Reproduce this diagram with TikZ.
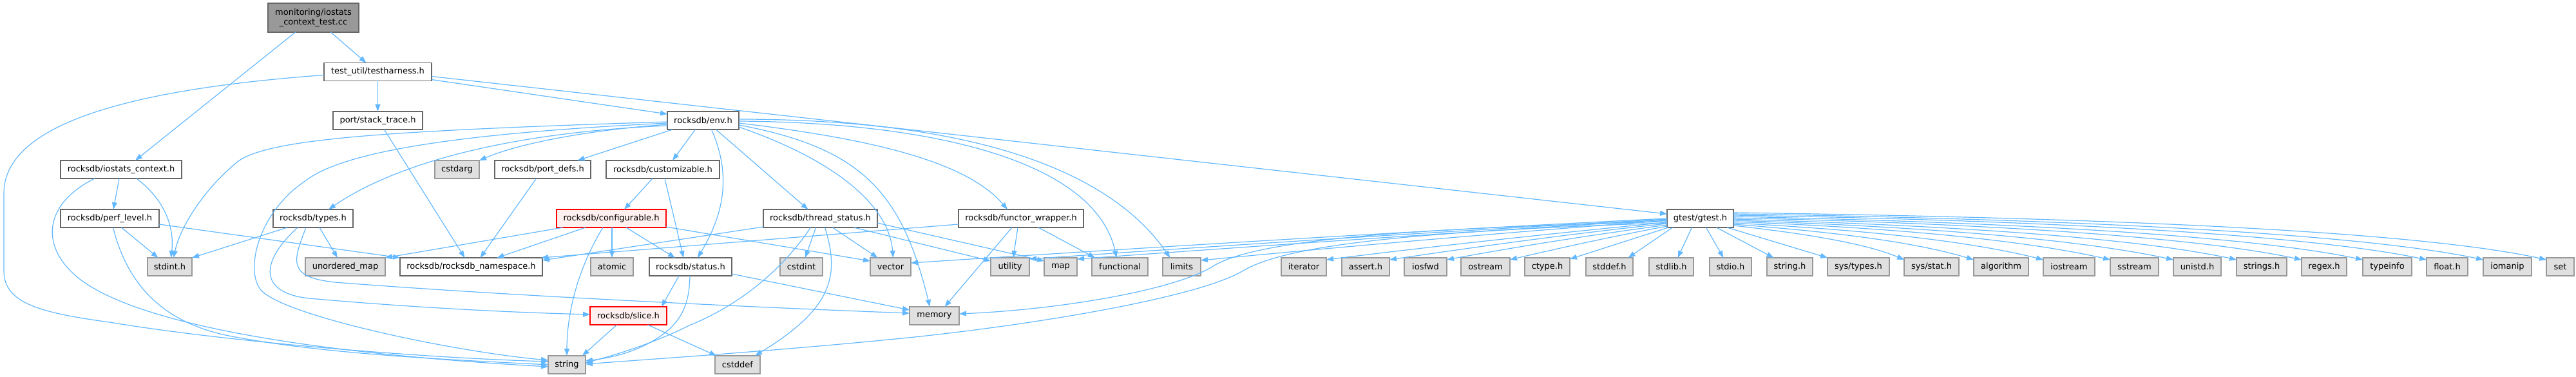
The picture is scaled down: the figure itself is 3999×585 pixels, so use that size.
\documentclass[tikz,border=0pt]{standalone}
\usepackage{fontspec}
\setmainfont{DejaVu Sans}
\usetikzlibrary{arrows.meta,calc}
\definecolor{edgec}{HTML}{63B8FF}
\definecolor{wborder}{HTML}{666666}
\definecolor{lborder}{HTML}{999999}
\definecolor{lfill}{HTML}{E0E0E0}
\definecolor{rfill}{HTML}{FFF0F0}
\definecolor{mfill}{HTML}{999999}
\tikzset{
  box/.style={rectangle, inner sep=0pt, outer sep=0pt, minimum height=28pt, line width=1.3pt, font=\fontsize{13}{15.5}\selectfont, text=black},
  wnode/.style={box, draw=wborder, fill=white},
  leaf/.style={box, draw=lborder, fill=lfill},
  rnode/.style={box, draw=red, fill=rfill},
  mainnode/.style={box, draw=wborder, fill=mfill, align=center},
  dep/.style={draw=edgec, line width=1.2pt, -{Triangle[length=11pt,width=8pt]}}
}
\begin{document}
\begin{tikzpicture}[x=1pt,y=-1pt]
\useasboundingbox (0,0) rectangle (3999,585);
% row 0-3
\node[mainnode, minimum width=141pt, minimum height=45pt] (main) at (486.5,27.5) {monitoring/iostats\\\_context\_test.cc};
\node[wnode, minimum width=167pt] (th) at (586.5,111.5) {test\_util/testharness.h};
\node[wnode, minimum width=139pt] (st) at (586.5,187) {port/stack\_trace.h};
\node[wnode, minimum width=111pt] (env) at (1091.5,187) {rocksdb/env.h};
\node[wnode, minimum width=188pt] (ioc) at (188,263) {rocksdb/iostats\_context.h};
\node[leaf, minimum width=69pt] (cstdarg) at (709.5,263) {cstdarg};
\node[wnode, minimum width=149pt] (pd) at (842.5,263) {rocksdb/port\_defs.h};
\node[wnode, minimum width=176pt] (cust) at (1029,263) {rocksdb/customizable.h};
% row 4
\node[wnode, minimum width=153pt] (pl) at (170.5,339) {rocksdb/perf\_level.h};
\node[wnode, minimum width=124pt] (types) at (486,339) {rocksdb/types.h};
\node[rnode, minimum width=170pt] (conf) at (949,339) {rocksdb/configurable.h};
\node[wnode, minimum width=177pt] (ts) at (1273.5,339) {rocksdb/thread\_status.h};
\node[wnode, minimum width=194pt] (fw) at (1585,339) {rocksdb/functor\_wrapper.h};
\node[wnode, minimum width=103pt] (gtest) at (2639.5,339) {gtest/gtest.h};
% row 5
\node[leaf, minimum width=69pt] (stdint) at (263.5,414) {stdint.h};
\node[leaf, minimum width=124pt] (umap) at (536,414) {unordered\_map};
\node[wnode, minimum width=221pt] (ns) at (731.5,414) {rocksdb/rocksdb\_namespace.h};
\node[leaf, minimum width=66pt] (atomic) at (950,414) {atomic};
\node[wnode, minimum width=128pt] (status) at (1072,414) {rocksdb/status.h};
\node[leaf, minimum width=66pt] (cstdint) at (1244,414) {cstdint};
\node[leaf, minimum width=63pt] (vector) at (1382.5,414) {vector};
\node[leaf, minimum width=60pt] (utility) at (1568,414) {utility};
\node[leaf, minimum width=51pt] (map) at (1646.5,414) {map};
\node[leaf, minimum width=87pt] (functional) at (1738.5,414) {functional};
\node[leaf, minimum width=59pt] (limits) at (1834.5,414) {limits};
\node[leaf, minimum width=70pt] (iterator) at (2024,414) {iterator};
\node[leaf, minimum width=74pt] (assert) at (2120,414) {assert.h};
\node[leaf, minimum width=66pt] (iosfwd) at (2213,414) {iosfwd};
\node[leaf, minimum width=76pt] (ostream) at (2306,414) {ostream};
\node[leaf, minimum width=70pt] (ctype) at (2402,414) {ctype.h};
\node[leaf, minimum width=73pt] (stddef) at (2498.5,414) {stddef.h};
\node[leaf, minimum width=69pt] (stdlib) at (2594.5,414) {stdlib.h};
\node[leaf, minimum width=65pt] (stdio) at (2686.5,414) {stdio.h};
\node[leaf, minimum width=71pt] (stringh) at (2778.5,414) {string.h};
\node[leaf, minimum width=96pt] (systypes) at (2885,414) {sys/types.h};
\node[leaf, minimum width=85pt] (sysstat) at (2998.5,414) {sys/stat.h};
\node[leaf, minimum width=85pt] (algorithm) at (3106.5,414) {algorithm};
\node[leaf, minimum width=80pt] (iostream) at (3212,414) {iostream};
\node[leaf, minimum width=75pt] (sstream) at (3313.5,414) {sstream};
\node[leaf, minimum width=74pt] (unistd) at (3411,414) {unistd.h};
\node[leaf, minimum width=78pt] (strings) at (3511,414) {strings.h};
\node[leaf, minimum width=70pt] (regex) at (3608,414) {regex.h};
\node[leaf, minimum width=76pt] (typeinfo) at (3706,414) {typeinfo};
\node[leaf, minimum width=64pt] (float) at (3799,414) {float.h};
\node[leaf, minimum width=75pt] (iomanip) at (3892.5,414) {iomanip};
\node[leaf, minimum width=43pt] (set) at (3974.5,414) {set};
% row 6-7
\node[rnode, minimum width=119pt] (slice) at (975.5,490) {rocksdb/slice.h};
\node[leaf, minimum width=77pt] (memory) at (1450.5,490) {memory};
\node[leaf, minimum width=58pt] (string) at (880,566) {string};
\node[leaf, minimum width=70pt] (cstddef) at (1145,566) {cstddef};

% main
\draw[dep] ($(main.south)+(27,0)$) -- ($(th.north)+(-18,0)$);
\draw[dep] ($(main.south)+(-28,0)$) -- ($(ioc.north)+(22,0)$);
% testharness
\draw[dep] ($(th.west)+(0,5)$) .. controls (250,135) and (6,180) .. (6,300) -- (6,420) .. controls (6,470) and (60,485) .. (170,500) .. controls (350,530) and (650,555) .. ($(string.west)+(0,-5)$);
\draw[dep] (th.south) -- (st.north);
\draw[dep] ($(th.east)+(0,12)$) -- ($(env.west)+(0,-10)$);
\draw[dep] ($(th.east)+(0,7)$) -- ($(gtest.west)+(0,-7)$);
% stack_trace
\draw[dep] ($(st.south)+(10,0)$) -- ($(ns.north)+(-10,0)$);
% env
\draw[dep] ($(env.west)+(0,6)$) .. controls (900,203) and (800,225) .. (cstdarg.north east);
\draw[dep] ($(env.south west)+(8,0)$) -- ($(pd.north)+(54,0)$);
\draw[dep] ($(env.south)+(-12,0)$) -- ($(cust.north)+(15,0)$);
\draw[dep] ($(env.west)+(0,2)$) .. controls (600,203) and (420,215) .. (370,250) .. controls (320,290) and (280,350) .. ($(stdint.north)+(6,0)$);
\draw[dep] ($(env.west)+(0,4)$) .. controls (750,205) and (540,230) .. (475,280) .. controls (400,330) and (380,420) .. (405,450) .. controls (440,490) and (700,545) .. ($(string.west)+(0,-7)$);
\draw[dep] ($(env.west)+(0,8)$) .. controls (800,205) and (620,250) .. ($(types.north)+(24,0)$);
\draw[dep] ($(env.south)+(13,0)$) .. controls (1135,270) and (1125,330) .. ($(status.north)+(11,0)$);
\draw[dep] ($(env.south)+(20,0)$) -- ($(ts.north)+(-19,0)$);
\draw[dep] ($(env.east)+(0,10)$) .. controls (1300,250) and (1380,320) .. ($(vector.north)+(4,0)$);
\draw[dep] ($(env.east)+(0,7)$) .. controls (1340,230) and (1400,300) .. ($(memory.north)+(-7,0)$);
\draw[dep] ($(env.east)+(0,4)$) .. controls (1350,215) and (1500,250) .. ($(fw.north)+(-21,0)$);
\draw[dep] ($(env.east)+(0,1)$) .. controls (1450,190) and (1700,250) .. ($(functional.north)+(-5,0)$);
\draw[dep] ($(env.east)+(0,-2)$) .. controls (1500,185) and (1720,260) .. ($(limits.north)+(-18,0)$);
% customizable
\draw[dep] ($(cust.south)+(-16,0)$) -- ($(conf.north)+(20,0)$);
\draw[dep] ($(cust.south)+(3,0)$) -- ($(status.north)+(-11,0)$);
% iostats_context
\draw[dep] ($(ioc.south)+(-41,0)$) .. controls (70,315) and (60,380) .. (120,430) .. controls (230,520) and (600,555) .. ($(string.west)+(0,3)$);
\draw[dep] ($(ioc.south)+(-3,0)$) -- ($(pl.north)+(5.5,0)$);
\draw[dep] ($(ioc.south)+(24,0)$) .. controls (262,315) and (270,360) .. ($(stdint.north)+(2,0)$);
% perf_level
\draw[dep] ($(pl.south)+(18,0)$) -- ($(stdint.north)+(-18,0)$);
\draw[dep] ($(pl.south)+(5,0)$) .. controls (200,450) and (260,500) .. (350,520) .. controls (500,550) and (700,558) .. (string.west);
\draw[dep] ($(pl.east)+(0,9)$) -- (ns.north west);
% types
\draw[dep] ($(types.south)+(-40,0)$) -- (stdint.north east);
\draw[dep] ($(types.south)+(10,0)$) -- ($(umap.north)+(-12,0)$);
\draw[dep] ($(types.south)+(-24,0)$) .. controls (400,410) and (405,455) .. (480,463) .. controls (650,478) and (800,485) .. ($(slice.west)+(0,-2)$);
\draw[dep] ($(types.south)+(-11,0)$) .. controls (455,405) and (445,430) .. (520,438) .. controls (800,460) and (1200,478) .. ($(memory.west)+(0,-4)$);
% configurable
\draw[dep] ($(conf.south)+(-75,0)$) -- (umap.north east);
\draw[dep] ($(conf.south)+(-40,0)$) -- ($(ns.north)+(40,0)$);
\draw[dep] ($(conf.south)+(-13,0)$) .. controls (895,420) and (880,490) .. (string.north);
\draw[dep] ($(conf.south)+(1,0)$) -- (atomic.north);
\draw[dep] ($(conf.south)+(23,0)$) -- ($(status.north)+(-24,0)$);
\draw[dep] ($(conf.east)+(0,13)$) -- ($(vector.north west)+(0,5)$);
% slice
\draw[dep] ($(slice.south)+(30,0)$) -- ($(cstddef.north)+(-33,0)$);
\draw[dep] ($(slice.south)+(-18,0)$) -- ($(string.north east)+(-5,0)$);
% status
\draw[dep] ($(status.south)+(-18,0)$) -- ($(slice.north east)+(-8,0)$);
\draw[dep] ($(status.south)+(-1,0)$) .. controls (1070,470) and (1060,490) .. (1040,510) .. controls (1000,545) and (950,555) .. ($(string.east)+(0,-6)$);
\draw[dep] ($(status.east)+(0,11)$) -- ($(memory.west)+(0,-9)$);
% thread_status
\draw[dep] ($(ts.west)+(0,13)$) -- ($(ns.north east)+(0,4)$);
\draw[dep] ($(ts.south)+(-15,0)$) .. controls (1200,440) and (1120,485) .. (1070,505) .. controls (1010,535) and (950,552) .. ($(string.east)+(0,-3)$);
\draw[dep] ($(ts.south)+(-7,0)$) -- ($(cstdint.north)+(6,0)$);
\draw[dep] ($(ts.south)+(7,0)$) .. controls (1305,430) and (1290,480) .. ($(cstddef.north)+(27,0)$);
\draw[dep] ($(ts.south)+(19,0)$) -- ($(vector.north)+(-20,0)$);
\draw[dep] ($(ts.south)+(52,0)$) -- ($(utility.north west)+(0,5)$);
\draw[dep] ($(ts.east)+(0,7)$) -- ($(map.north west)+(0,5)$);
% functor_wrapper
\draw[dep] ($(fw.west)+(0,9)$) -- ($(ns.north east)+(-2,0)$);
\draw[dep] ($(fw.south)+(-14,0)$) -- ($(memory.north)+(16,0)$);
\draw[dep] ($(fw.south)+(-5,0)$) -- ($(utility.north)+(5,0)$);
\draw[dep] ($(fw.south)+(27,0)$) -- ($(functional.north west)+(5,0)$);
% port_defs
\draw[dep] ($(pd.south)+(-10,0)$) -- ($(ns.north)+(14,0)$);
% gtest left
\draw[dep] (gtest.west) .. controls (2200,358) and (1800,383) .. ($(vector.north east)+(0,8)$);
\draw[dep] ($(gtest.west)+(0,1)$) .. controls (2258,358) and (1928,379) .. ($(utility.north east)+(0,2)$);
\draw[dep] ($(gtest.west)+(0,2)$) .. controls (2283,359) and (1977,380) .. ($(map.north east)+(0,2)$);
\draw[dep] ($(gtest.west)+(0,3)$) .. controls (2347,360) and (2105,381) .. ($(limits.north east)+(0,4)$);
\draw[dep] ($(gtest.west)+(0,5)$) .. controls (2150,355) and (1940,375) .. (1880,415) .. controls (1820,450) and (1650,480) .. ($(memory.east)+(0,-3)$);
\draw[dep] ($(gtest.west)+(0,7)$) .. controls (2150,360) and (1990,385) .. (1930,420) .. controls (1860,462) and (1600,505) .. (1400,525) .. controls (1200,545) and (1000,558) .. ($(string.east)+(0,-1)$);
\draw[dep] ($(gtest.west)+(0,6)$) .. controls (2412,362) and (2235,381) .. ($(iterator.north east)+(0,3)$);
\draw[dep] ($(gtest.west)+(0,8)$) .. controls (2444,362) and (2300,382) .. ($(assert.north east)+(0,3)$);
\draw[dep] ($(gtest.west)+(0,10)$) .. controls (2474,364) and (2360,382) .. ($(iosfwd.north east)+(0,3)$);
\draw[dep] ($(gtest.west)+(0,12)$) .. controls (2507,366) and (2425,384) .. ($(ostream.north east)+(0,3)$);
\draw[dep] ($(gtest.south west)+(2,0)$) -- ($(ctype.north east)+(0,2)$);
% gtest middle
\draw[dep] ($(gtest.south)+(-43,0)$) -- ($(stddef.north)+(29,0)$);
\draw[dep] ($(gtest.south)+(-13,0)$) -- ($(stdlib.north)+(10,0)$);
\draw[dep] ($(gtest.south)+(9,0)$) -- ($(stdio.north)+(-11,0)$);
\draw[dep] ($(gtest.south)+(25,0)$) -- ($(stringh.north)+(-25,0)$);
\draw[dep] ($(gtest.south east)+(-10,0)$) -- (systypes.north west);
% gtest right
\draw[dep] ($(gtest.east)+(0,11)$) .. controls (2780,360) and (2890,375) .. ($(sysstat.north west)+(0,3)$);
\draw[dep] ($(gtest.east)+(0,9)$) .. controls (2820,358) and (2960,372) .. ($(algorithm.north west)+(0,3)$);
\draw[dep] ($(gtest.east)+(0,7)$) .. controls (2860,355) and (3040,370) .. ($(iostream.north west)+(0,3)$);
\draw[dep] ($(gtest.east)+(0,5)$) .. controls (2900,352) and (3120,368) .. ($(sstream.north west)+(0,3)$);
\draw[dep] ($(gtest.east)+(0,3)$) .. controls (2930,350) and (3200,366) .. ($(unistd.north west)+(0,3)$);
\draw[dep] ($(gtest.east)+(0,1)$) .. controls (2960,348) and (3290,364) .. ($(strings.north west)+(0,3)$);
\draw[dep] ($(gtest.east)+(0,-1)$) .. controls (3000,345) and (3380,362) .. ($(regex.north west)+(0,3)$);
\draw[dep] ($(gtest.east)+(0,-3)$) .. controls (3030,343) and (3460,360) .. ($(typeinfo.north west)+(0,3)$);
\draw[dep] ($(gtest.east)+(0,-5)$) .. controls (3070,340) and (3550,358) .. ($(float.north west)+(0,3)$);
\draw[dep] ($(gtest.east)+(0,-7)$) .. controls (3100,338) and (3630,356) .. ($(iomanip.north west)+(0,3)$);
\draw[dep] ($(gtest.east)+(0,-9)$) .. controls (3130,336) and (3720,352) .. ($(set.north west)+(0,3)$);
\end{tikzpicture}
\end{document}
